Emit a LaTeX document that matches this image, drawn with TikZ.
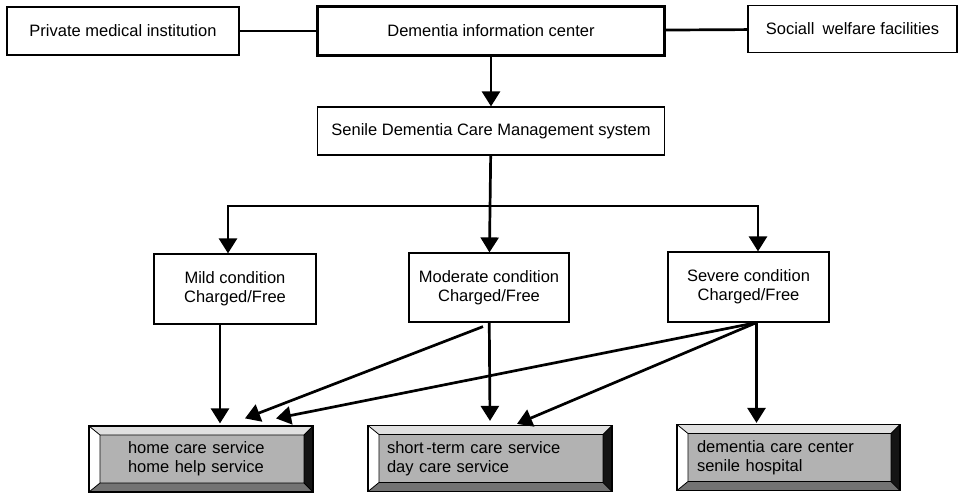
\documentclass[tikz,border=0pt]{standalone}
\usepackage{fontspec}
\setmainfont{Liberation Sans}
\usetikzlibrary{calc}
\usetikzlibrary{arrows.meta}
\colorlet{face colour}{black!30}
\colorlet{bevel top colour}{black!12}
\colorlet{bevel side colour}{white}
\colorlet{bevel right colour}{black!92}
\colorlet{bevel bottom colour}{black!55}
\newcommand{\labelfont}{\fontsize{16.5}{19}\selectfont}
\tikzset{
    % Big solid triangles, as in the scan
    >={Triangle[width=18pt 0 0,length=15pt 0 0]},
%
    % Lines
    flow/.style={line width=2.7pt, ->},
    link/.style={line width=2.7pt},
%
    % Plain boxes
    box/.style={draw, line width=1.2pt, minimum height=47},
    % Raised buttons at the bottom, bevels drawn inside the node
    bevel box/.style={
        draw, line width=1.2pt, fill=face colour, align=left,
        inner sep=0, minimum height=66,
        path picture={
            \coordinate (bnw) at (path picture bounding box.north west);
            \coordinate (bne) at (path picture bounding box.north east);
            \coordinate (bse) at (path picture bounding box.south east);
            \coordinate (bsw) at (path picture bounding box.south west);
            \coordinate (inw) at ($(bnw)+(11pt,-9pt)$);
            \coordinate (ine) at ($(bne)+(-9pt,-9pt)$);
            \coordinate (ise) at ($(bse)+(-9pt,9pt)$);
            \coordinate (isw) at ($(bsw)+(11pt,9pt)$);
            \fill[bevel top colour] (bnw) -- (bne) -- (ine) -- (inw) -- cycle;
            \fill[bevel right colour] (bne) -- (bse) -- (ise) -- (ine) -- cycle;
            \fill[bevel bottom colour] (bse) -- (bsw) -- (isw) -- (ise) -- cycle;
            \fill[bevel side colour] (bsw) -- (bnw) -- (inw) -- (isw) -- cycle;
            \draw[line width=0.8pt] (inw) rectangle (ise)
                (bnw) -- (inw) (bne) -- (ine) (bse) -- (ise) (bsw) -- (isw);
        }},
%
    every node/.style={align=center, font=\labelfont},
}

\begin{document}
\begin{tikzpicture}[x=1pt, y=-1pt]

% Fix the extent of the page to the scan
\useasboundingbox (0,0) rectangle (958,495);

% Top row
\node [box, minimum width=232, minimum height=48] (private) at (123,31) {Private medical institution};
\node [box, line width=2.8pt, minimum width=347, minimum height=49] (info) at (491,31) {Dementia information center};
\node [box, minimum width=209] (welfare) at (852.5,29) {Sociall\enspace welfare facilities};
\draw [link] (private) -- (info);
\draw [link] (info) -- (welfare);

% Care management
\node [box, minimum width=347, minimum height=48] (senile) at (491,131) {Senile Dementia Care Management system};
\draw [flow] (info) -- (senile);

% Conditions
\node [box, minimum width=162, minimum height=70] (mild) at (235,289) {Mild condition\\Charged/Free};
\node [box, minimum width=160, minimum height=69] (moderate) at (489,287.5) {Moderate condition\\Charged/Free};
\node [box, minimum width=161, minimum height=70] (severe) at (748.5,287) {Severe condition\\Charged/Free};
\coordinate (split) at ($(senile.south)!0.52!(moderate.north)$);
\draw [flow] (senile) -- (moderate);
\draw [link, <->] ($(mild.north)+(-7,0)$) |- (split) -| ($(severe.north)+(9.5,0)$);

% Services
\node [bevel box, minimum width=224, text width=146] (home) at (201,459) {home care service\\home help service};
\node [bevel box, minimum width=244, text width=206] (short) at (490,458.5) {short\,-term care service\\day care service};
\node [bevel box, minimum width=223, text width=183] (hospital) at (788.5,457.5) {dementia care center\\senile hospital};

\coordinate (mild out) at ($(mild.south)+(-15,0)$);
\coordinate (moderate out) at ($(moderate.south)+(-6,4)$);
\coordinate (severe out) at ($(severe.south)+(8,0)$);
\draw [flow] (mild out) -- ($(mild out |- home.north)+(0,-2)$);
\draw [flow] (moderate out) -- ($(home.north)+(44,-7)$);
\draw [flow] (severe out) -- ($(home.north)+(75,-7)$);
\draw [flow] (moderate) -- ($(short.north)+(0,-4)$);
\draw [flow] (severe out) -- ($(short.north)+(27,-1)$);
\draw [flow] (severe out) -- ($(severe out |- hospital.north)+(0,-1)$);

\end{tikzpicture}
\end{document}
